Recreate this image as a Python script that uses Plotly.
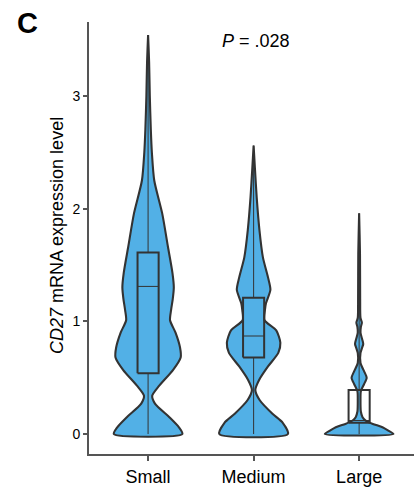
import plotly.graph_objects as go

# ---------------- data ----------------
categories = ["Small", "Medium", "Large"]

# violin density profiles (expression level, relative density 0..1)
small_levels = [0.00, 0.06, 0.15, 0.27, 0.34, 0.42, 0.57, 0.68, 0.77, 0.90, 1.01, 1.10, 1.20, 1.30, 1.43, 1.66, 1.96, 2.25, 2.50, 2.70, 3.00, 3.30, 3.54]
small_density = [1.00, 0.90, 0.62, 0.20, 0.12, 0.30, 0.73, 0.95, 0.93, 0.80, 0.64, 0.67, 0.72, 0.75, 0.71, 0.58, 0.41, 0.18, 0.11, 0.08, 0.05, 0.03, 0.00]

medium_levels = [0.00, 0.10, 0.18, 0.30, 0.39, 0.48, 0.60, 0.72, 0.81, 0.92, 1.01, 1.10, 1.16, 1.28, 1.39, 1.57, 1.81, 2.10, 2.35, 2.56]
medium_density = [1.00, 0.85, 0.55, 0.18, 0.05, 0.16, 0.42, 0.72, 0.78, 0.66, 0.32, 0.33, 0.36, 0.49, 0.42, 0.27, 0.17, 0.09, 0.04, 0.00]

large_levels = [0.00, 0.03, 0.06, 0.09, 0.12, 0.15, 0.20, 0.30, 0.38, 0.44, 0.50, 0.56, 0.63, 0.72, 0.76, 0.80, 0.85, 0.90, 0.95, 0.99, 1.03, 1.20, 1.60, 1.96]
large_density = [1.00, 0.85, 0.68, 0.40, 0.19, 0.10, 0.05, 0.04, 0.05, 0.14, 0.22, 0.14, 0.04, 0.04, 0.08, 0.12, 0.08, 0.04, 0.05, 0.08, 0.04, 0.03, 0.025, 0.00]

# box statistics: min, q1, median, q3, max
box_min = [0.00, 0.00, 0.00]
box_q1 = [0.54, 0.68, 0.10]
box_median = [1.31, 0.87, 0.12]
box_q3 = [1.61, 1.21, 0.39]
box_max = [3.54, 2.56, 1.96]

y_ticks = [0, 1, 2, 3]
p_label = "<i>P</i> = .028"
y_title = "<i>CD27</i> mRNA expression level"
panel_label = "<b>C</b>"

# ---------------- style ----------------
FILL = "#52B0E6"
EDGE = "#333333"
AXIS = "#555555"
FONT = "Liberation Sans, Arial, sans-serif"
VIOLIN_HALF = 0.325
BOX_HALF = 0.10

fig = go.Figure()

profiles = [(small_levels, small_density), (medium_levels, medium_density), (large_levels, large_density)]

for i, (lv, dn) in enumerate(profiles):
    xs = [i + d * VIOLIN_HALF for d in dn] + [i - d * VIOLIN_HALF for d in reversed(dn)]
    ys = list(lv) + list(reversed(lv))
    xs.append(xs[0]); ys.append(ys[0])
    fig.add_trace(go.Scatter(x=xs, y=ys, mode="lines", fill="toself", fillcolor=FILL,
                             line=dict(color=EDGE, width=2.1, shape="spline", smoothing=0.7),
                             hoverinfo="skip", showlegend=False))

for i in range(len(categories)):
    # whiskers
    fig.add_trace(go.Scatter(x=[i, i, None, i, i], y=[box_min[i], box_q1[i], None, box_q3[i], box_max[i]],
                             mode="lines", line=dict(color=EDGE, width=1), hoverinfo="skip", showlegend=False))
    # box
    fig.add_trace(go.Scatter(x=[i - BOX_HALF, i + BOX_HALF, i + BOX_HALF, i - BOX_HALF, i - BOX_HALF],
                             y=[box_q1[i], box_q1[i], box_q3[i], box_q3[i], box_q1[i]],
                             mode="lines", line=dict(color=EDGE, width=2), hoverinfo="skip", showlegend=False))
    # median
    fig.add_trace(go.Scatter(x=[i - BOX_HALF, i + BOX_HALF], y=[box_median[i], box_median[i]],
                             mode="lines", line=dict(color=EDGE, width=1), hoverinfo="skip", showlegend=False))

fig.update_layout(
    width=414, height=495,
    margin=dict(l=89, r=0, t=22, b=41),
    plot_bgcolor="white", paper_bgcolor="white",
    font=dict(family=FONT, color="black"),
    xaxis=dict(range=[-0.56, 2.52], tickvals=list(range(len(categories))), ticktext=categories,
               showline=True, linecolor=AXIS, linewidth=2, ticks="outside", ticklen=5,
               tickcolor=AXIS, tickwidth=1.5, showgrid=False, zeroline=False,
               tickfont=dict(size=18, family=FONT, color="black")),
    yaxis=dict(range=[-0.177, 3.656], tickvals=y_ticks, showline=True, linecolor=AXIS,
               linewidth=2, ticks="outside", ticklen=4, tickcolor=AXIS, tickwidth=1.5,
               showgrid=False, zeroline=False, tickfont=dict(size=14, family=FONT, color="black")),
    annotations=[
        dict(text=panel_label, xref="paper", yref="paper", x=-0.1877, y=0.9988, xanchor="center",
             yanchor="middle", showarrow=False, font=dict(size=29, family=FONT, color="black")),
        dict(text=p_label, xref="paper", yref="paper", x=0.5138, y=0.9549, xanchor="center",
             yanchor="middle", showarrow=False, font=dict(size=18, family=FONT, color="black")),
        dict(text=y_title, xref="paper", yref="paper", x=-0.0985, y=0.507, xanchor="center",
             yanchor="middle", textangle=-90, showarrow=False, font=dict(size=18, family=FONT, color="black")),
    ],
)

fig.write_html("out.html")
